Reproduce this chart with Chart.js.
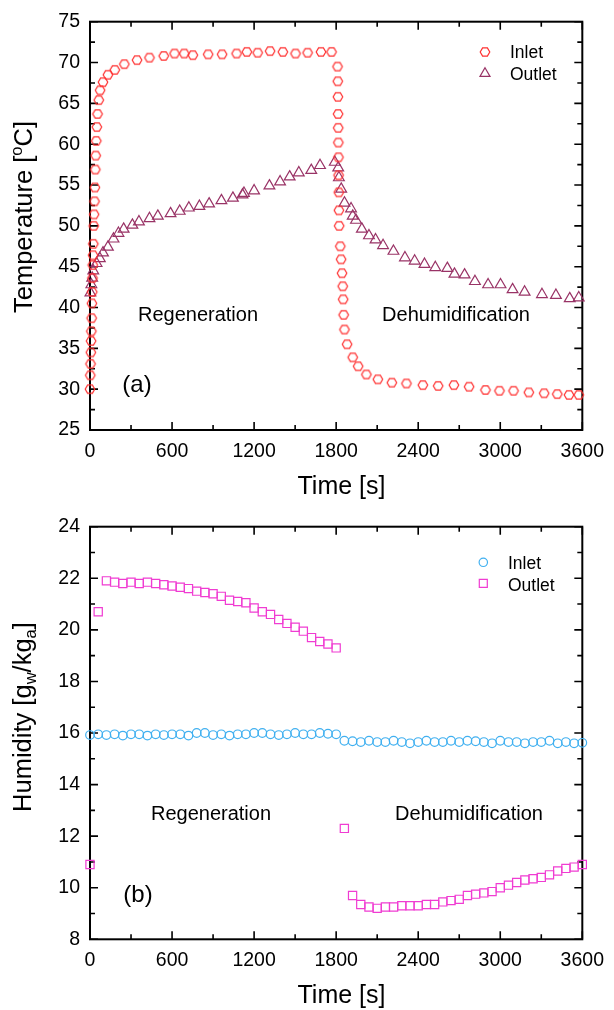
<!DOCTYPE html>
<html><head><meta charset="utf-8">
<script src="https://cdn.jsdelivr.net/npm/chart.js@4"></script>
<style>
html,body{margin:0;padding:0;background:#fff;}
#wrap{position:relative;width:614px;height:1010px;}
.box{position:absolute;left:0;width:614px;height:505px;}
canvas{display:block;}
</style></head><body>
<div id="wrap">
<div class="box" style="top:0"><canvas id="c1" width="614" height="505"></canvas></div>
<div class="box" style="top:505px"><canvas id="c2" width="614" height="505"></canvas></div>
</div>
<script>
// ---------- DATA ----------
const tempInletTime = [0,2,4,6,8,10,12,14,16,18,20,22,24,27,30,33,36,39,42,46,50,55,64,74,95,131,181,251,344,435,539,618,689,752,864,966,1072,1147,1226,1317,1410,1503,1591,1689,1766,
  1810,1812,1813,1814,1815,1816,1817,1818,1819,1820,1822,1830,1836,1843,1848,1851,1855,1861,1880,1921,1961,2021,2105,2207,2314,2434,2546,2661,2772,2892,2994,3097,3209,3321,3417,3503,3574];
const tempInletValue = [30.0,31.7,33.1,34.5,35.9,37.1,38.7,40.5,41.9,43.6,45.2,46.4,47.8,50.0,51.4,53.0,54.7,56.9,58.6,60.4,62.1,63.7,65.4,66.6,67.6,68.5,69.1,69.8,70.3,70.6,70.8,71.1,71.1,70.9,71.0,71.0,71.1,71.3,71.2,71.4,71.3,71.1,71.2,71.3,71.3,
  69.5,67.7,65.8,63.7,62.0,60.2,58.4,56.2,54.1,51.9,50.0,47.5,45.9,44.2,42.6,41.0,39.1,37.3,35.5,33.9,32.8,31.8,31.2,30.8,30.7,30.5,30.4,30.5,30.3,29.9,29.8,29.8,29.6,29.5,29.4,29.3,29.3];
const tempOutletTime = [3,10,16,24,48,72,95,131,172,208,246,310,358,435,496,589,656,723,800,871,961,1045,1115,1126,1200,1312,1390,1460,1527,1618,1682,1790,
  1815,1820,1837,1861,1909,1921,1945,1988,2040,2088,2143,2219,2303,2374,2446,2525,2613,2665,2739,2815,2911,3002,3090,3178,3305,3407,3508,3574];
const tempOutletValue = [41.8,42.8,43.6,44.5,45.4,46.0,46.7,47.4,48.4,49.1,49.6,50.1,50.5,50.9,51.2,51.5,51.8,52.2,52.4,52.7,53.1,53.4,53.8,54.0,54.3,54.9,55.4,56.0,56.5,56.8,57.4,57.8,
  57.1,55.9,54.5,52.8,52.1,51.2,50.7,49.6,48.8,48.3,47.6,46.9,46.1,45.7,45.3,44.9,44.8,44.1,44.0,43.2,42.8,42.8,42.2,41.9,41.6,41.5,41.1,41.2];

const humTime = [0,60,120,180,240,300,360,420,480,540,600,660,720,780,840,900,960,1020,1080,1140,1200,1260,1320,1380,1440,1500,1560,1620,1680,1740,1800,
  1860,1920,1980,2040,2100,2160,2220,2280,2340,2400,2460,2520,2580,2640,2700,2760,2820,2880,2940,3000,3060,3120,3180,3240,3300,3360,3420,3480,3540,3600];
const humInletValue = [15.92,15.95,15.92,15.95,15.9,15.95,15.95,15.9,15.95,15.92,15.95,15.95,15.9,16.0,16.0,15.92,15.95,15.9,15.95,15.95,16.0,16.0,15.95,15.92,15.95,16.0,15.95,15.95,16.0,15.97,15.95,
  15.7,15.68,15.65,15.7,15.65,15.65,15.7,15.65,15.6,15.65,15.7,15.65,15.65,15.7,15.65,15.7,15.68,15.65,15.6,15.7,15.65,15.65,15.6,15.65,15.65,15.7,15.6,15.65,15.6,15.62];
const humOutletValue = [10.9,20.7,21.9,21.85,21.8,21.85,21.8,21.85,21.8,21.75,21.7,21.65,21.6,21.5,21.45,21.4,21.3,21.15,21.1,21.05,20.85,20.7,20.6,20.4,20.25,20.1,19.95,19.7,19.55,19.45,19.3,
  12.3,9.7,9.35,9.25,9.2,9.25,9.25,9.3,9.3,9.3,9.35,9.35,9.45,9.5,9.55,9.7,9.75,9.8,9.85,10.0,10.1,10.2,10.3,10.35,10.4,10.5,10.65,10.75,10.8,10.9];

const timeTicks = [0,600,1200,1800,2400,3000,3600];
const tempTicks = [25,30,35,40,45,50,55,60,65,70,75];
const humTicks = [8,10,12,14,16,18,20,22,24];

// ---------- STYLE ----------
const FONT = '"Liberation Sans", Arial, sans-serif';
const C_TIN = '#ff3030', C_TOUT = '#993366', C_HIN = '#40b0f0', C_HOUT = '#f03cd2';

function makeHex(color) {
  const c = document.createElement('canvas'); c.width = 14; c.height = 14;
  const g = c.getContext('2d'); g.strokeStyle = color; g.lineWidth = 1.2;
  g.beginPath();
  for (let i = 0; i < 6; i++) { const a = i * Math.PI / 3; const px = 7 + 4.8 * Math.cos(a), py = 7 + 4.8 * Math.sin(a); i ? g.lineTo(px, py) : g.moveTo(px, py); }
  g.closePath(); g.stroke(); return c;
}
const hexImg = makeHex(C_TIN);

function mids(arr) { const m = []; for (let i = 0; i < arr.length - 1; i++) m.push((arr[i] + arr[i + 1]) / 2); return m; }

function drawMarker(ctx, kind, color, x, y) {
  ctx.save(); ctx.strokeStyle = color; ctx.lineWidth = 1.2; ctx.beginPath();
  if (kind === 'hex') { ctx.drawImage(hexImg, x - 7, y - 7); ctx.restore(); return; }
  if (kind === 'tri') { const r = 5.8; ctx.moveTo(x, y - r); ctx.lineTo(x + r * 0.866, y + r * 0.5); ctx.lineTo(x - r * 0.866, y + r * 0.5); ctx.closePath(); }
  if (kind === 'sq') { const s = 4; ctx.rect(x - s, y - s, 2 * s, 2 * s); }
  if (kind === 'cir') { ctx.arc(x, y, 4.2, 0, Math.PI * 2); }
  ctx.stroke(); ctx.restore();
}

function drawRich(ctx, segs, size, cx, cy, rotate) {
  ctx.save(); ctx.translate(cx, cy); if (rotate) ctx.rotate(-Math.PI / 2);
  let total = 0;
  segs.forEach(s => { ctx.font = (s.sub || s.sup ? size * 0.65 : size) + 'px ' + FONT; s.w = ctx.measureText(s.t).width; total += s.w; });
  let x = -total / 2; const base = size * 0.36;
  ctx.textBaseline = 'alphabetic'; ctx.textAlign = 'left'; ctx.fillStyle = '#000';
  segs.forEach(s => {
    ctx.font = (s.sub || s.sup ? size * 0.65 : size) + 'px ' + FONT;
    const dy = s.sup ? -size * 0.4 : (s.sub ? size * 0.2 : 0);
    ctx.fillText(s.t, x, base + dy); x += s.w;
  });
  ctx.restore();
}

const decoPlugin = {
  id: 'deco',
  beforeDatasetsDraw(chart, args, o) {
    const { ctx, chartArea: a, scales: { x, y } } = chart;
    ctx.save(); ctx.strokeStyle = '#000';
    ctx.lineWidth = 1.6;
    const tick = (px, len, horiz) => {
      ctx.beginPath();
      if (horiz) { ctx.moveTo(px, a.bottom); ctx.lineTo(px, a.bottom - len); ctx.moveTo(px, a.top); ctx.lineTo(px, a.top + len); }
      else { ctx.moveTo(a.left, px); ctx.lineTo(a.left + len, px); ctx.moveTo(a.right, px); ctx.lineTo(a.right - len, px); }
      ctx.stroke();
    };
    timeTicks.forEach(v => tick(x.getPixelForValue(v), 8, true));
    mids(timeTicks).forEach(v => tick(x.getPixelForValue(v), 5, true));
    o.yTicks.forEach(v => tick(y.getPixelForValue(v), 8, false));
    mids(o.yTicks).forEach(v => tick(y.getPixelForValue(v), 5, false));
    ctx.lineWidth = 2;
    ctx.strokeRect(a.left, a.top, a.right - a.left, a.bottom - a.top);
    ctx.restore();
  },
  afterDraw(chart, args, o) {
    const { ctx } = chart;
    ctx.save();
    drawRich(ctx, [{ t: 'Time [s]' }], 25, 341.5, o.xTitleY - 9, false);
    drawRich(ctx, o.yTitle, 25.5, o.yTitleX, o.yTitleY, true);
    ctx.fillStyle = '#000'; ctx.textAlign = 'center'; ctx.textBaseline = 'alphabetic';
    o.notes.forEach(n => { ctx.font = n.size + 'px ' + FONT; ctx.fillText(n.t, n.x, n.y); });
    ctx.textAlign = 'left'; ctx.font = '17.5px ' + FONT;
    o.legend.forEach(l => { drawMarker(ctx, l.kind, l.color, l.mx, l.my); ctx.fillStyle = '#000'; ctx.fillText(l.t, l.tx, l.ty); });
    ctx.restore();
  }
};

function makeChart(id, datasets, yTicks, yMin, yMax, deco, padTop, axisBottom) {
  return new Chart(document.getElementById(id), {
    type: 'scatter',
    data: { datasets },
    plugins: [decoPlugin],
    options: {
      responsive: false, animation: false, events: [],
      layout: { padding: { left: 0, right: 21, top: padTop, bottom: 0 } },
      plugins: { legend: { display: false }, tooltip: { enabled: false }, deco: Object.assign({ yTicks }, deco) },
      scales: {
        x: {
          type: 'linear', min: 0, max: 3600,
          afterBuildTicks: s => { s.ticks = timeTicks.map(v => ({ value: v })); },
          afterFit: s => { s.height = 505 - axisBottom; },
          grid: { display: false, drawTicks: false }, border: { display: false },
          ticks: { color: '#000', font: { family: FONT, size: 19.5 }, padding: 10, maxRotation: 0, autoSkip: false, callback: v => String(v) }
        },
        y: {
          type: 'linear', min: yMin, max: yMax,
          afterBuildTicks: s => { s.ticks = yTicks.map(v => ({ value: v })); },
          afterFit: s => { s.width = 90; },
          grid: { display: false, drawTicks: false }, border: { display: false },
          ticks: { color: '#000', font: { family: FONT, size: 19.5 }, padding: 10, autoSkip: false, callback: v => String(v) }
        }
      }
    }
  });
}

const pts = (ts, vs) => ts.map((t, i) => ({ x: t, y: vs[i] }));

makeChart('c1', [
  { label: 'Inlet', data: pts(tempInletTime, tempInletValue), pointStyle: hexImg, pointRadius: 5, showLine: false, clip: false },
  { label: 'Outlet', data: pts(tempOutletTime, tempOutletValue), pointStyle: 'triangle', pointRadius: 6.2, pointBorderWidth: 1.2, pointBorderColor: C_TOUT, pointBackgroundColor: 'rgba(0,0,0,0)', showLine: false, clip: false }
], tempTicks, 25, 75, {
  xTitleY: 494, yTitleX: 23, yTitleY: 217,
  yTitle: [{ t: 'Temperature [' }, { t: 'o', sup: true }, { t: 'C]' }],
  notes: [{ t: 'Regeneration', x: 198, y: 321, size: 20 }, { t: 'Dehumidification', x: 456, y: 321, size: 20 }, { t: '(a)', x: 137, y: 392, size: 24 }],
  legend: [{ kind: 'hex', color: C_TIN, mx: 485, my: 52, t: 'Inlet', tx: 510, ty: 58 }, { kind: 'tri', color: C_TOUT, mx: 485, my: 73.5, t: 'Outlet', tx: 510, ty: 80 }]
}, 17, 430);

makeChart('c2', [
  { label: 'Inlet', data: pts(humTime, humInletValue), pointStyle: 'circle', pointRadius: 4.3, pointBorderWidth: 1.2, pointBorderColor: C_HIN, pointBackgroundColor: 'rgba(0,0,0,0)', showLine: false, clip: false },
  { label: 'Outlet', data: pts(humTime, humOutletValue), pointStyle: 'rect', pointRadius: 5.8, pointBorderWidth: 1.2, pointBorderColor: C_HOUT, pointBackgroundColor: 'rgba(0,0,0,0)', showLine: false, clip: false }
], humTicks, 8, 24, {
  xTitleY: 498, yTitleX: 22, yTitleY: 212,
  yTitle: [{ t: 'Humidity [g' }, { t: 'w', sub: true }, { t: '/kg' }, { t: 'a', sub: true }, { t: ']' }],
  notes: [{ t: 'Regeneration', x: 211, y: 315, size: 20 }, { t: 'Dehumidification', x: 469, y: 315, size: 20 }, { t: '(b)', x: 138, y: 397, size: 24 }],
  legend: [{ kind: 'cir', color: C_HIN, mx: 483.3, my: 57.3, t: 'Inlet', tx: 508, ty: 64 }, { kind: 'sq', color: C_HOUT, mx: 483.3, my: 78.3, t: 'Outlet', tx: 508, ty: 85.7 }]
}, 21.5, 434.3);
</script>
</body></html>
